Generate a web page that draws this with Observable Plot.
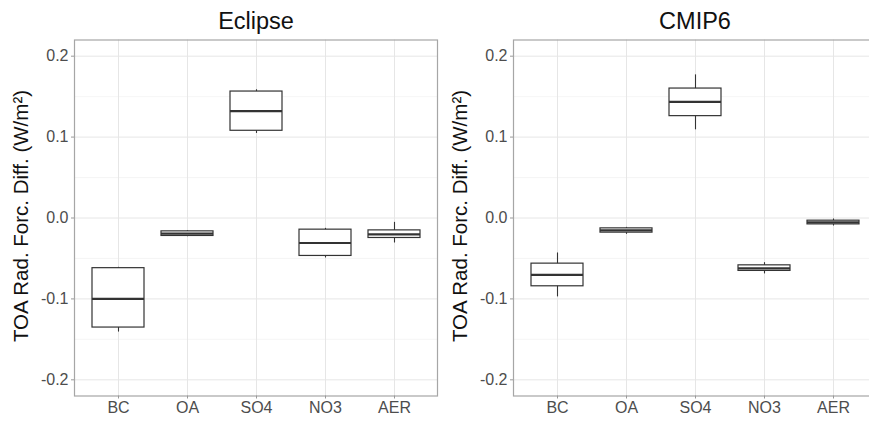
<!DOCTYPE html>
<html>
<head>
<meta charset="utf-8">
<script src="https://cdn.jsdelivr.net/npm/d3@7"></script>
<script src="https://cdn.jsdelivr.net/npm/@observablehq/plot@0.6"></script>
<style>
  html, body { margin: 0; padding: 0; background: #fff; }
  #wrap { position: relative; width: 869px; height: 421px; overflow: hidden; background: #fff; }
  #wrap svg { position: absolute; top: 0; }
</style>
</head>
<body>
<div id="wrap"></div>
<script>
// Categories and panel titles
const categories = ["BC", "OA", "SO4", "NO3", "AER"];
const panelTitles = ["Eclipse", "CMIP6"];
const yTicks = [-0.2, -0.1, 0.0, 0.1, 0.2];
const yMinorTicks = [-0.15, -0.05, 0.05, 0.15];
const yLabel = "TOA Rad. Forc. Diff. (W/m²)";

// Eclipse box statistics (per category): lower whisker, Q1, median, Q3, upper whisker
const eclipseLow    = [-0.141, -0.0231, 0.1045, -0.0494, -0.0309];
const eclipseQ1     = [-0.1354, -0.0222, 0.1078, -0.0469, -0.0247];
const eclipseMedian = [-0.100, -0.0194, 0.1321, -0.0309, -0.0202];
const eclipseQ3     = [-0.062, -0.0165, 0.1563, -0.0144, -0.0153];
const eclipseHigh   = [-0.061, -0.0157, 0.1585, -0.0128, -0.0054];

// CMIP6 box statistics
const cmipLow    = [-0.0975, -0.0202, 0.109, -0.0691, -0.0099];
const cmipQ1     = [-0.0844, -0.0181, 0.1259, -0.0654, -0.0079];
const cmipMedian = [-0.0704, -0.0153, 0.1436, -0.0622, -0.0054];
const cmipQ3     = [-0.0564, -0.0128, 0.160, -0.0585, -0.0033];
const cmipHigh   = [-0.0432, -0.0116, 0.1769, -0.0552, -0.0012];

function table(lo, q1, med, q3, hi) {
  return categories.map((c, i) => ({cat: c, lo: lo[i], q1: q1[i], med: med[i], q3: q3[i], hi: hi[i]}));
}

const boxStroke = "#333333";

function panel(title, data) {
  return Plot.plot({
    width: 440,
    height: 421,
    marginLeft: 74,
    marginRight: 3,
    marginTop: 39.5,
    marginBottom: 25.5,
    style: {fontFamily: "'Liberation Sans', Arial, Helvetica, sans-serif", fontSize: "16px", background: "white"},
    x: {type: "band", domain: categories, paddingInner: 0.25, paddingOuter: 0.225, align: 0.5, label: null},
    y: {domain: [-0.22, 0.22], label: null},
    marks: [
      Plot.gridY(yMinorTicks, {stroke: "#f0f0f0", strokeOpacity: 1, strokeWidth: 0.7}),
      Plot.gridY(yTicks, {stroke: "#e6e6e6", strokeOpacity: 1, strokeWidth: 1}),
      Plot.gridX(categories, {stroke: "#e6e6e6", strokeOpacity: 1, strokeWidth: 1}),
      Plot.ruleX(data, {x: "cat", y1: "lo", y2: "hi", stroke: boxStroke, strokeWidth: 1.1}),
      Plot.barY(data, {x: "cat", y1: "q1", y2: "q3", fill: "white", stroke: boxStroke, strokeWidth: 1.2}),
      Plot.tickY(data, {x: "cat", y: "med", stroke: boxStroke, strokeWidth: 2.2}),
      Plot.frame({stroke: "#a6a6a6", strokeWidth: 1.2}),
      Plot.axisY(yTicks, {tickSize: 3, tickPadding: 3, stroke: "#999999", fill: "#4d4d4d", tickFormat: d => d.toFixed(1), label: null, fontSize: 16}),
      Plot.axisX({tickSize: 3, tickPadding: 3, stroke: "#999999", fill: "#4d4d4d", label: null, fontSize: 16}),
      Plot.text([title], {frameAnchor: "top", lineAnchor: "bottom", dy: -11, fontSize: 23.5, fill: "#111"}),
      Plot.text([yLabel], {frameAnchor: "left", rotate: -90, textAnchor: "middle", lineAnchor: "bottom", dx: -46.5, dy: -2, fontSize: 20.5, fill: "#111"})
    ]
  });
}

const wrap = document.getElementById("wrap");
const left = panel(panelTitles[0], table(eclipseLow, eclipseQ1, eclipseMedian, eclipseQ3, eclipseHigh));
left.style.left = "0px";
const right = panel(panelTitles[1], table(cmipLow, cmipQ1, cmipMedian, cmipQ3, cmipHigh));
right.style.left = "439px";
wrap.appendChild(left);
wrap.appendChild(right);
</script>
</body>
</html>
